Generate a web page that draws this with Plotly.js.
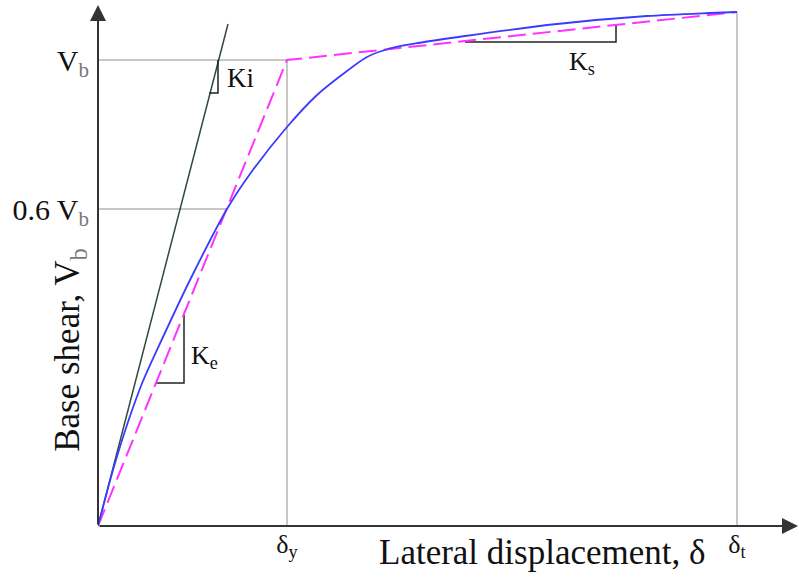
<!DOCTYPE html>
<html>
<head>
<meta charset="utf-8">
<script src="https://cdn.plot.ly/plotly-3.0.1.min.js"></script>
<style>
html,body{margin:0;padding:0;background:#fff;}
#chart svg text{font-family:'Liberation Serif',serif !important;}
</style>
</head>
<body>
<div id="chart"></div>
<script>
// ---- data (displacement units, base-shear units) ----
var Vb = 466;            // yield base shear
var Vb06 = 317;          // level marked 0.6 Vb
var dy = 189;            // yield displacement
var dt = 639;            // target displacement
var Vt = 514;            // shear at target displacement

// capacity (pushover) curve
var curveX = [0, 15, 30, 45, 65, 92, 129, 152, 189, 219, 245, 269, 290, 320, 367, 459, 549, 612, 639];
var curveY = [0, 56, 104, 145, 189, 246, 317, 352, 399, 431, 452, 469, 477, 483, 490, 502, 510, 513, 514];

// initial stiffness line Ki
var kiX = [0, 130];
var kiY = [0, 502];

// bilinear idealisation (Ke then Ks)
var biX = [0, dy, dt];
var biY = [0, Vb, Vt];

// reference lines
var vbLineX = [0, dy], vbLineY = [Vb, Vb];
var v06LineX = [0, 129], v06LineY = [Vb06, Vb06];
var dyLineX = [dy, dy], dyLineY = [0, Vb];
var dtLineX = [dt, dt], dtLineY = [0, Vt];

// slope triangles
var triKiX = [111, 120, 120], triKiY = [433, 433, 466];
var triKeX = [58, 86, 86],   triKeY = [143, 143, 211];
var triKsX = [367, 518, 518], triKsY = [484, 484, 501];

// axis extents
var xMax = 700, yMax = 521;

// tick labels
var yTickVals = [Vb, Vb06];
var yTickText = ['V<sub><span style="color:#777">b</span></sub>', '0.6 V<sub><span style="color:#777">b</span></sub>'];
var xTickVals = [dy, dt];
var xTickText = ['δ<sub>y</sub>', 'δ<sub>t</sub>'];

var FAM = 'Liberation Serif';
var gray = '#b5b5b5';

function line(x, y, color, width, dash) {
  return {x: x, y: y, type: 'scatter', mode: 'lines', hoverinfo: 'skip', showlegend: false,
          line: {color: color, width: width, dash: dash || 'solid'}};
}

var curve = line(curveX, curveY, '#3b3bff', 1.8);
curve.line.shape = 'spline';
curve.line.smoothing = 0.8;

var traces = [
  line(vbLineX, vbLineY, gray, 1.5),
  line(v06LineX, v06LineY, gray, 1.5),
  line(dyLineX, dyLineY, gray, 1.5),
  line(dtLineX, dtLineY, gray, 1.5),
  line(kiX, kiY, '#2f4a3e', 1.5),
  line(triKiX, triKiY, '#222', 1.5),
  line(triKeX, triKeY, '#222', 1.5),
  line(triKsX, triKsY, '#222', 1.5),
  line(biX, biY, '#ff33ff', 2, '18px,7px'),
  curve
];

var layout = {
  width: 799, height: 578,
  margin: {l: 98, r: 1, t: 0, b: 52},
  paper_bgcolor: '#fff', plot_bgcolor: '#fff',
  font: {family: FAM, size: 20},
  showlegend: false,
  xaxis: {range: [0, 700], showgrid: false, zeroline: false, showline: false,
          tickmode: 'array', tickvals: xTickVals, ticktext: xTickText, ticks: '',
          tickfont: {family: FAM, size: 26, color: '#111'}},
  yaxis: {range: [0, 526], showgrid: false, zeroline: false, showline: false,
          tickmode: 'array', tickvals: yTickVals, ticktext: yTickText, ticks: '',
          tickfont: {family: FAM, size: 30, color: '#111'}, ticklabelstandoff: 8},
  annotations: [
    {x: xMax, y: 0, ax: 0, ay: 0, xref: 'x', yref: 'y', axref: 'x', ayref: 'y',
     showarrow: true, arrowhead: 2, arrowsize: 1.6, arrowwidth: 2, arrowcolor: '#333', text: ''},
    {x: 0, y: yMax, ax: 0, ay: 0, xref: 'x', yref: 'y', axref: 'x', ayref: 'y',
     showarrow: true, arrowhead: 2, arrowsize: 1.6, arrowwidth: 2, arrowcolor: '#333', text: ''},
    {text: 'Lateral displacement, δ', xref: 'paper', yref: 'paper', x: 0.634, y: -0.05,
     xanchor: 'center', yanchor: 'middle', showarrow: false, font: {family: FAM, size: 35, color: '#111'}},
    {text: 'Base shear, V<sub><span style="color:#777">b</span></sub>', xref: 'paper', yref: 'paper', x: -0.04, y: 0.335,
     xanchor: 'center', yanchor: 'middle', textangle: -90, showarrow: false, font: {family: FAM, size: 35, color: '#111'}},
    {text: 'Ki', xref: 'x', yref: 'y', x: 142, y: 448, xanchor: 'center', yanchor: 'middle',
     showarrow: false, font: {family: FAM, size: 27, color: '#111'}},
    {text: 'K<sub>e</sub>', xref: 'x', yref: 'y', x: 106, y: 169, xanchor: 'center', yanchor: 'middle',
     showarrow: false, font: {family: FAM, size: 26, color: '#111'}},
    {text: 'K<sub>s</sub>', xref: 'x', yref: 'y', x: 484, y: 463, xanchor: 'center', yanchor: 'middle',
     showarrow: false, font: {family: FAM, size: 26, color: '#111'}}
  ]
};

Plotly.newPlot('chart', traces, layout, {displayModeBar: false});
</script>
</body>
</html>
